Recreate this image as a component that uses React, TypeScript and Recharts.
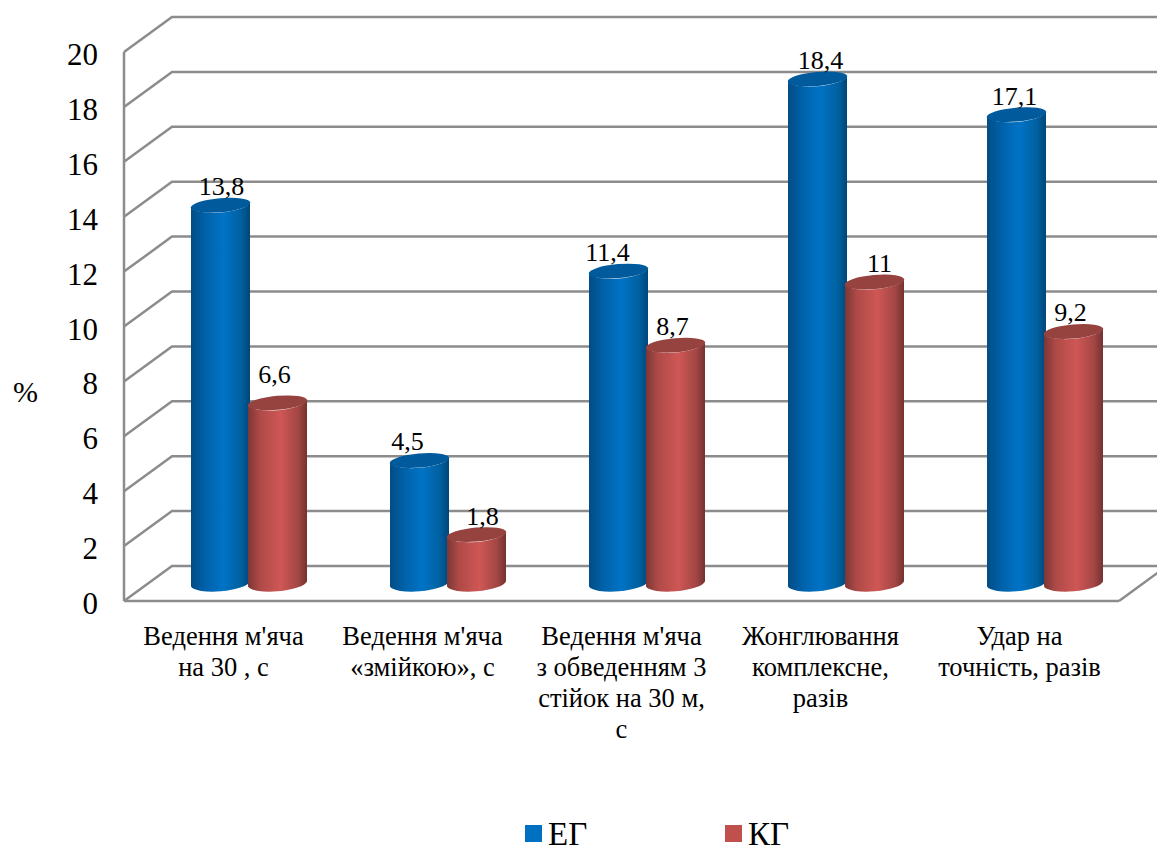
import { Bar, BarChart, CartesianGrid, LabelList, Legend, XAxis, YAxis } from "recharts";

const categories = [
  "Ведення м'яча\nна 30 , с",
  "Ведення м'яча\n«змійкою», с",
  "Ведення м'яча\nз обведенням 3\nстійок на 30 м,\nс",
  "Жонглювання\nкомплексне,\nразів",
  "Удар на\nточність, разів",
];
const egValues = [13.8, 4.5, 11.4, 18.4, 17.1];
const kgValues = [6.6, 1.8, 8.7, 11, 9.2];
const yTicks = [0, 2, 4, 6, 8, 10, 12, 14, 16, 18, 20];

const data = categories.map((category, i) => ({ category, eg: egValues[i], kg: kgValues[i] }));

const FONT = '"Liberation Serif", serif';
const GRID = "#8c8c8c";
// depth of the fake 3D box, and how far the cylinders sit inside it
const DEPTH_X = 48;
const DEPTH_Y = -35;
const BAR_DX = 25;
const BAR_DY = -17;

// a few value labels were moved by hand to stay clear of the cylinders
const egLabelShift = [[0, 0], [-13, 0], [-12, 0], [2, 0], [-3, 0]];
const kgLabelShift = [[-4, -10], [5, 0], [-4, 0], [4, 0], [-4, 0]];

function WallLine(props: any) {
  const { x1, y1, x2, y, height } = props;
  const backY = y1 + DEPTH_Y;
  const isFloor = Math.abs(y1 - (y + height)) < 1;
  return (
    <g fill="none" stroke={GRID} strokeWidth={2.5}>
      <polyline points={`${x1},${y1} ${x1 + DEPTH_X},${backY} ${x2 + DEPTH_X},${backY}`} />
      {isFloor && <line x1={x2} y1={y1} x2={x2 + DEPTH_X} y2={backY} />}
    </g>
  );
}

const cylinder = (gradient: string, cap: string) =>
  function Cylinder(props: any) {
    const { x, y, width, height } = props;
    const left = x + BAR_DX;
    const right = left + width;
    const top = y + BAR_DY;
    const bottom = top + height;
    const rx = width / 2 + 0.4;
    const tilt = 2.5;
    const body =
      `M${left},${top + tilt} L${left},${bottom + tilt} ` +
      `A${rx},8.5 -5 0 0 ${right},${bottom - tilt} ` +
      `L${right},${top - tilt} A${rx},8.5 -5 0 1 ${left},${top + tilt} Z`;
    return (
      <g>
        <path d={body} fill={`url(#${gradient})`} />
        <ellipse
          cx={left + width / 2}
          cy={top}
          rx={rx}
          ry={7}
          fill={cap}
          transform={`rotate(-5 ${left + width / 2} ${top})`}
        />
      </g>
    );
  };

const valueLabel = (shifts: number[][]) =>
  function ValueLabel(props: any) {
    const { x, y, width, value, index } = props;
    const [dx, dy] = shifts[index];
    return (
      <text
        x={x + BAR_DX + width / 2 + 1 + dx}
        y={y + BAR_DY - 10 + dy}
        textAnchor="middle"
        fontFamily={FONT}
        fontSize={26}
        fill="#000"
      >
        {String(value).replace(".", ",")}
      </text>
    );
  };

function CategoryTick(props: any) {
  const { x, y, payload } = props;
  const lines = String(payload.value).split("\n");
  return (
    <text x={x} y={y} textAnchor="middle" fontFamily={FONT} fontSize={26.5} fill="#000">
      {lines.map((line, i) => (
        <tspan key={line} x={x} dy={i === 0 ? 36 : 31}>
          {line}
        </tspan>
      ))}
    </text>
  );
}

function ValueTick(props: any) {
  const { y, payload } = props;
  return (
    <text x={98} y={y + 13} textAnchor="end" fontFamily={FONT} fontSize={31} fill="#000">
      {payload.value}
    </text>
  );
}

function SeriesLegend(props: any) {
  const { payload = [] } = props;
  return (
    <div style={{ position: "relative", height: 40, fontFamily: FONT, fontSize: 33, color: "#000" }}>
      {payload.map((entry: any, i: number) => (
        <div key={entry.value} style={{ position: "absolute", left: 525 + i * 200, top: 0, lineHeight: "20px" }}>
          <span
            style={{
              position: "absolute",
              left: 0,
              top: 19,
              width: 17,
              height: 17,
              background: entry.color,
            }}
          />
          <span style={{ position: "absolute", left: 23, top: 18 }}>{entry.value}</span>
        </div>
      ))}
    </div>
  );
}

export default function App() {
  return (
    <div style={{ position: "absolute", left: 0, top: 0, width: 1157, height: 846, background: "#fff", overflow: "hidden" }}>
      <BarChart
        width={1157}
        height={846}
        data={data}
        margin={{ top: 52, right: 38, left: 0, bottom: 0 }}
        barSize={59}
        barGap={-2}
      >
        <defs>
          <linearGradient id="egBody" x1="0" y1="0" x2="1" y2="0">
            <stop offset="0" stopColor="#024c85" />
            <stop offset="0.25" stopColor="#0062aa" />
            <stop offset="0.55" stopColor="#0073c6" />
            <stop offset="0.85" stopColor="#00609f" />
            <stop offset="1" stopColor="#00467a" />
          </linearGradient>
          <linearGradient id="kgBody" x1="0" y1="0" x2="1" y2="0">
            <stop offset="0" stopColor="#7c3735" />
            <stop offset="0.2" stopColor="#ae4a47" />
            <stop offset="0.55" stopColor="#cf5755" />
            <stop offset="0.85" stopColor="#a24644" />
            <stop offset="1" stopColor="#743230" />
          </linearGradient>
        </defs>
        <CartesianGrid vertical={false} horizontal={(p: any) => <WallLine key={p.key} {...p} />} />
        <XAxis
          dataKey="category"
          height={205}
          interval={0}
          axisLine={{ stroke: GRID, strokeWidth: 2.5 }}
          tickLine={false}
          tick={<CategoryTick />}
        />
        <YAxis
          width={124}
          domain={[0, 20]}
          ticks={yTicks}
          interval={0}
          axisLine={{ stroke: GRID, strokeWidth: 2.5 }}
          tickLine={false}
          tick={<ValueTick />}
          label={{ value: "%", position: "insideLeft", offset: 13, dy: 65, fontSize: 30, fontFamily: FONT, fill: "#000" }}
        />
        <Legend
          verticalAlign="bottom"
          height={40}
          content={<SeriesLegend />}
          wrapperStyle={{ left: 0, width: 1157, bottom: 0 }}
        />
        <Bar dataKey="eg" name="ЕГ" fill="#0070c0" shape={cylinder("egBody", "#005a9c")} isAnimationActive={false}>
          <LabelList dataKey="eg" content={valueLabel(egLabelShift)} />
        </Bar>
        <Bar dataKey="kg" name="КГ" fill="#c0504d" shape={cylinder("kgBody", "#96423f")} isAnimationActive={false}>
          <LabelList dataKey="kg" content={valueLabel(kgLabelShift)} />
        </Bar>
      </BarChart>
    </div>
  );
}
